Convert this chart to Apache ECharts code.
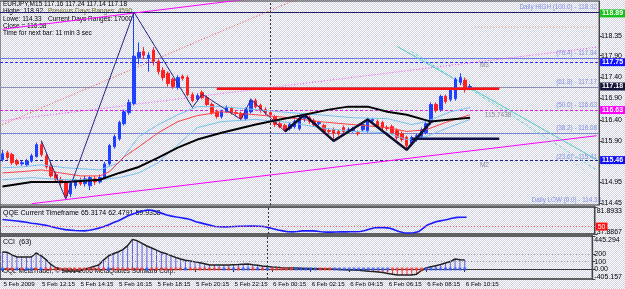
<!DOCTYPE html>
<html><head><meta charset="utf-8">
<script src="https://cdn.jsdelivr.net/npm/echarts@6/dist/echarts.min.js"></script>
<style>
html,body{margin:0;padding:0;}
#c{width:625px;height:289px;background-color:#fff;background-image:repeating-conic-gradient(#cfd1e0 0 25%, #ffffff 0 50%);background-size:2px 2px;}
</style></head><body><div id="c"></div>
<script>
// ---------------- data ----------------
const tickLabels = ['5 Feb 2009','5 Feb 12:15','5 Feb 14:15','5 Feb 16:15','5 Feb 18:15','5 Feb 20:15','5 Feb 22:15','6 Feb 00:15','6 Feb 02:15','6 Feb 04:15','6 Feb 06:15','6 Feb 08:15','6 Feb 10:15'];
const slotCount = 123;            // bar slots on the time axis (incl. right shift)
const daySeparatorBar = 55;       // 6 Feb 00:00

const opens = [115.47,115.63,115.59,115.44,115.37,115.35,115.44,115.54,115.82,115.56,
115.33,115.12,115.00,114.93,114.67,114.86,114.98,114.91,114.86,115.02,
114.95,115.05,115.37,115.77,115.96,116.31,116.57,116.78,117.86,118.00,
117.84,118.03,117.77,117.56,117.49,117.35,117.16,117.42,117.39,116.99,
116.88,117.04,116.92,116.76,116.59,116.48,116.59,116.67,116.57,116.55,
116.43,116.59,116.85,116.74,116.64,116.57,116.48,116.31,116.27,116.20,
116.24,116.20,116.43,116.45,116.38,116.31,116.27,116.15,116.17,116.13,
116.22,116.15,116.15,116.10,116.17,116.15,116.38,116.36,116.34,116.22,
116.24,116.15,116.08,115.99,115.84,115.94,116.01,116.10,116.34,116.76,
116.64,116.95,116.88,116.90,117.28,117.33,117.16];
const closes = [115.61,115.52,115.40,115.37,115.40,115.44,115.56,115.82,115.59,115.30,
115.09,115.00,114.93,114.62,114.91,114.98,114.91,115.02,115.05,114.95,
115.05,115.37,115.80,116.01,116.34,116.59,116.81,117.89,117.98,117.91,
117.91,117.77,117.53,117.39,117.25,117.18,117.39,117.37,116.99,116.85,
116.97,116.92,116.76,116.57,116.48,116.59,116.69,116.57,116.55,116.45,
116.64,116.85,116.71,116.62,116.57,116.52,116.29,116.24,116.17,116.29,
116.36,116.43,116.48,116.36,116.29,116.34,116.13,116.13,116.08,116.08,
116.13,116.17,116.20,116.08,116.29,116.41,116.41,116.24,116.22,116.20,
116.10,115.99,115.94,115.80,115.99,116.03,116.17,116.31,116.76,116.62,
116.95,116.83,117.11,117.35,117.39,117.12,117.18];
const lows = [115.42,115.47,115.35,115.33,115.33,115.30,115.40,115.52,115.54,115.26,
115.05,114.93,114.86,114.55,114.60,114.79,114.86,114.84,114.76,114.88,
114.91,115.00,115.33,115.73,115.91,116.27,116.52,116.74,117.70,117.82,
117.53,117.67,117.46,117.32,117.18,117.13,117.11,117.32,116.95,116.81,
116.83,116.88,116.71,116.52,116.43,116.43,116.57,116.52,116.50,116.41,
116.38,116.55,116.67,116.57,116.52,116.45,116.24,116.20,116.13,116.15,
116.20,116.15,116.36,116.31,116.24,116.27,116.08,116.06,115.91,116.03,
116.08,116.10,116.10,116.03,116.13,116.10,116.34,116.20,116.17,116.15,
116.06,115.94,115.89,115.70,115.80,115.89,115.96,116.06,116.29,116.57,
116.59,116.78,116.83,116.85,117.21,117.04,117.14];
const highs = [115.70,115.68,115.63,115.49,115.44,115.49,115.61,115.87,115.91,115.63,
115.40,115.19,115.07,115.00,114.95,115.02,115.05,115.09,115.09,115.09,
115.12,115.42,115.84,116.06,116.38,116.64,116.88,118.92,118.21,118.10,
117.98,118.10,117.82,117.63,117.53,117.39,117.44,117.46,117.44,117.04,
117.02,117.09,116.97,116.81,116.64,116.64,116.74,116.71,116.62,116.59,
116.69,116.90,116.90,116.78,116.69,116.62,116.52,116.38,116.31,116.34,
116.41,116.50,116.52,116.50,116.43,116.38,116.31,116.20,116.22,116.17,
116.27,116.22,116.24,116.15,116.34,116.45,116.45,116.41,116.38,116.27,
116.29,116.20,116.13,116.03,116.03,116.08,116.22,116.36,116.81,116.81,
116.99,116.99,117.16,117.39,117.49,117.39,117.24];

// moving averages / bands: [bar, price]
const maSlow = [[0,114.84],[6,114.95],[13,114.95],[20,115.00],[24,115.16],[28,115.30],[32,115.52],[36,115.75],[40,115.94],[45,116.10],[52,116.29],[57,116.41],[62,116.52],[67,116.64],[71,116.71],[75,116.71],[79,116.59],[83,116.52],[88,116.36],[92,116.41],[96,116.45]];
const maMid = [[0,115.16],[4,115.19],[8,115.23],[12,115.16],[16,115.09],[20,115.09],[22,115.19],[25,115.54],[28,115.77],[32,116.10],[36,116.36],[40,116.50],[45,116.59],[52,116.52],[59,116.45],[65,116.36],[72,116.29],[79,116.22],[83,116.13],[87,116.17],[91,116.34],[96,116.52]];
const bandUpper = [[0,115.28],[4,115.30],[8,115.35],[13,115.28],[20,115.23],[24,115.40],[28,116.01],[32,116.29],[36,116.52],[40,116.71],[45,116.71],[52,116.64],[59,116.57],[65,116.52],[72,116.45],[79,116.43],[84,116.29],[87,116.36],[92,116.59],[96,116.69]];
const bandLower = [[0,115.00],[6,115.05],[13,115.00],[20,115.00],[24,115.05],[28,115.16],[32,115.40],[36,115.82],[40,116.22],[45,116.36],[52,116.41],[59,116.34],[65,116.22],[72,116.13],[79,116.10],[83,115.94],[87,116.01],[92,116.24],[96,116.41]];

// zigzags
const zigzagThin = [[8,115.91],[13,114.55],[27,118.92],[39,116.69],[41,117.00],[49,116.41],[51,116.88],[58,116.13]];
const zigzagThick = [[58,116.13],[62,116.52],[68,115.91],[75,116.41],[83,115.70],[88,116.36]];

// trend lines
const channelUpper = [[0,118.52],[60,119.36]];
const channelLower = [[6,114.44],[122,116.03]];
const channelMidDotted = [[0,116.38],[122,118.10]];
const redDottedTrend = [[0,116.29],[62,119.30]];
const fanLine1 = [[81,118.12],[122,115.47]];
const fanLine2 = [[84,118.00],[122,115.23]];
const fanLine3 = [[90,117.82],[122,115.00]];
const orangeLevel = [[97,118.57],[122,118.57]];
const redResistance = [[44,117.13],[102,117.13]];
const navySupport = [[84,115.96],[102,115.96]];

// levels
const dailyHigh = 118.92, dailyLow = 114.33;
const levelPrices = [118.92, 117.84, 117.75, 117.17, 116.63, 116.08, 115.46];
const fibRatios = ['76.4','61.8','50.0','38.2','23.6'];
const fibPrices = [117.84, 117.17, 116.63, 116.08, 115.41];
const boxPrices = [118.89, 117.75, 117.18, 116.63, 115.46];
const mainTicks = [118.35, 117.90, 117.40, 116.90, 116.40, 115.90, 114.95, 114.45];
const mainRange = [114.41, 119.18];
const pivotTags = [['M3', 97, 117.67], ['M2', 97, 115.35], ['115.7438', 98, 116.50]];

// QQE
const qqe = [61.6,60.8,60,59,58,57,55.5,54.5,53.5,52,
50,48,46.5,45,44.2,43.6,43.2,43,44,45.5,
47.5,50,53,56.5,59.5,63.5,67.5,70.5,73.5,75.5,
76.8,76.5,74,71.5,69,67,65.5,64.5,63,61,
58,56,54,52,50,49.7,49.5,49.8,50.2,50.5,
50.5,50.8,51,50.5,50,48.5,46.5,44.5,43,41.5,
41.3,42,43,43,43,42.5,41.5,41,41,41.2,
41.3,41.3,41.5,41.5,42,43.5,46,48,48.5,48.3,
47.5,45,42,40,39.6,40,41.5,47,53,56,
58.5,60,61.5,63.5,65,65.2,65.3];
const qqeRange = [37.8867, 81.8933];
const qqeLevel = 50;

// CCI
const cci = [230,225,190,162,162,162,162,216,180,130,
67,20,0,-27,-27,-27,-27,-5,13,35,
54,120,175,205,230,262,315,400,380,345,
310,283,255,225,205,180,155,135,118,108,
96,85,70,55,54,54,54,54,57,60,
65,67,58,50,40,33,27,22,18,15,
13,12,10,8,6,4,2,0,0,-3,
-6,-9,-12,-13,-18,-24,-30,-35,-40,-48,
-60,-70,-80,-81,-81,-81,-70,-20,13,30,
45,60,80,100,135,125,121];
const cciDotTrend = ('udduduudu' + 'ddddddddddddd' + 'u' + 'ddddddd' + 'u' + 'ddddddd' + 'u' + 'ddddddd' +
  'ududuududu' + 'ddddd' + 'uuuuu' + 'ddd' + 'uuuuuuuuuuuu' + 'ddddddd' + 'uuuuuuuuu').split('');
const cciTickValues = [445.294, 200, 100, 0, -135];
const cciTickLabels = ['445.294', '200', '100', '0.00', '-405.157'];
const cciLevels = [200, 100];

// ---------------- chart ----------------
const FONT = '"Liberation Sans", Arial, sans-serif';
const categories = Array.from({length: slotCount}, (_, i) => String(i));
const chart = echarts.init(document.getElementById('c'), null, {renderer: 'canvas'});
const CLEAR = 'rgba(0,0,0,0)';

const labelTick = (i) => i % 8 === 0 && i / 8 < tickLabels.length;
function xAx(gi, show) {
  return {
    type: 'category', gridIndex: gi, data: categories, boundaryGap: true,
    axisLine: {show: show, lineStyle: {color: '#333'}},
    axisTick: {show: show, alignWithLabel: true, interval: labelTick, length: 3, lineStyle: {color: '#333'}},
    axisLabel: {show: show, interval: labelTick, formatter: (v, i) => tickLabels[i / 8] || '', align: 'left',
      fontSize: 6.2, color: '#000', margin: 2, padding: [0, 0, 0, 1], fontFamily: FONT, hideOverlap: false},
    splitLine: {show: false}
  };
}
// edge labels are nudged inside their panel, like the reference
function edgeRich() {
  return {
    n: {fontSize: 7, color: '#000', fontFamily: FONT},
    t: {fontSize: 7, color: '#000', fontFamily: FONT, padding: [9, 0, 0, 0]},
    b: {fontSize: 7, color: '#000', fontFamily: FONT, padding: [0, 0, 4, 0]}
  };
}
function yAx(gi, min, max, ticks, fmt) {
  return {
    type: 'value', gridIndex: gi, position: 'right', min: min, max: max, scale: true,
    axisLine: {show: true, lineStyle: {color: '#444'}},
    axisTick: {show: true, length: 3, customValues: ticks, lineStyle: {color: '#444'}},
    axisLabel: {customValues: ticks, fontSize: 7, color: '#000', margin: 2, fontFamily: FONT, rich: edgeRich(),
      formatter: v => {
        const s = fmt(v);
        if (gi === 0) return '{n|' + s + '}';
        if (v === max) return '{t|' + s + '}';
        if (v === min) return '{b|' + s + '}';
        return '{n|' + s + '}';
      }},
    splitLine: {show: false}
  };
}
function lineS(data, color, width, type, z, gi) {
  return {type: 'line', xAxisIndex: gi || 0, yAxisIndex: gi || 0, data: data, showSymbol: false, symbol: 'none',
    lineStyle: {color: color, width: width, type: type || 'solid'}, silent: true, z: z || 3, clip: true, animation: false};
}

const levelStyles = [
  {color: '#1c1c60', type: 'solid'},
  {color: '#6c7ae0', type: 'solid'},
  {color: '#2a2aff', type: [3, 2]},
  {color: '#8a90b8', type: 'solid'},
  {color: '#e020e0', type: [3, 2]},
  {color: '#7a86d0', type: 'solid'},
  {color: '#20208a', type: [3, 2]}
];
const boxColors = ['#19c019', '#1010ff', '#15153a', '#ff00ff', '#1010ee'];
const fibTextStyle = {color: '#7f8fe0', fontSize: 6.3, fontFamily: FONT};

const mainMarkLines = [];
levelPrices.forEach((p, i) => mainMarkLines.push({yAxis: p, lineStyle: Object.assign({width: 1}, levelStyles[i]), label: {show: false}}));
mainMarkLines.push({yAxis: dailyHigh, lineStyle: {width: 1, color: CLEAR},
  label: Object.assign({show: true, position: 'insideEndTop', distance: 2, formatter: 'Daily HIGH (100.0) - ' + dailyHigh.toFixed(2)}, fibTextStyle)});
fibPrices.forEach((p, i) => mainMarkLines.push({yAxis: p, lineStyle: {width: 1, color: CLEAR},
  label: Object.assign({show: true, position: 'insideEndTop', distance: 2, formatter: '(' + fibRatios[i] + ') - ' + p.toFixed(2)}, fibTextStyle)}));
boxPrices.forEach((p, i) => mainMarkLines.push({yAxis: p, lineStyle: {width: 1, color: CLEAR},
  label: {show: true, position: 'end', distance: 1, formatter: p.toFixed(2), backgroundColor: boxColors[i], color: '#fff',
    fontSize: 7, fontWeight: 'bold', fontFamily: FONT, padding: [1, 2, 0, 2]}}));
mainMarkLines.push({xAxis: daySeparatorBar, lineStyle: {color: '#333', type: [2, 2], width: 1}, label: {show: false}});

const candleData = opens.map((o, i) => [o, closes[i], lows[i], highs[i]]);
const smallText = (left, top, text, fill) => ({type: 'text', left: left, top: top, silent: true,
  style: {text: text, fontSize: 6.5, fill: fill || '#000', fontFamily: FONT}});

const option = {
  animation: false,
  backgroundColor: 'transparent',
  textStyle: {fontFamily: FONT},
  grid: [
    {left: 0, right: 22, top: 1, height: 204, show: true, borderColor: '#333', borderWidth: 1, backgroundColor: 'transparent'},
    {left: 0, right: 22, top: 207, height: 27, show: true, borderColor: '#333', borderWidth: 1.5, backgroundColor: 'transparent'},
    {left: 0, right: 22, top: 236, height: 43, show: true, borderColor: '#333', borderWidth: 1.5, backgroundColor: 'transparent'}
  ],
  xAxis: [xAx(0, false), xAx(1, false), xAx(2, true)],
  yAxis: [
    yAx(0, mainRange[0], mainRange[1], mainTicks, v => v.toFixed(2)),
    yAx(1, qqeRange[0], qqeRange[1], qqeRange, v => v.toFixed(4)),
    yAx(2, cciTickValues[cciTickValues.length - 1], cciTickValues[0], cciTickValues, v => cciTickLabels[cciTickValues.indexOf(v)] ?? String(v))
  ],
  series: [
    // trend lines
    lineS(redDottedTrend, '#ff3a3a', 1, [1, 2], 1),
    lineS(channelMidDotted, '#ff40ff', 1, [1, 2], 1),
    lineS(channelUpper, '#ff00ff', 1, 'solid', 1),
    lineS(channelLower, '#ff00ff', 1, 'solid', 1),
    lineS(fanLine1, '#50c8c8', 1, 'solid', 1),
    lineS(fanLine2, '#70d0d0', 1, [3, 2], 1),
    lineS(fanLine3, '#90d8d8', 1, [1, 2], 1),
    lineS(orangeLevel, '#e0a070', 1, [1, 2], 1),
    // bands and averages
    lineS(bandUpper, '#78c0ee', 1, 'solid', 3),
    lineS(bandLower, '#78c0ee', 1, 'solid', 3),
    lineS(maMid, '#ff4040', 1, 'solid', 3),
    lineS(maSlow, '#000000', 2, 'solid', 3),
    {
      type: 'candlestick', xAxisIndex: 0, yAxisIndex: 0, data: candleData, barWidth: 3, z: 2,
      itemStyle: {color: '#2040ff', color0: '#ff2020', borderColor: '#2040ff', borderColor0: '#ff2020', borderWidth: 1},
      silent: true,
      markLine: {symbol: ['none', 'none'], silent: true, animation: false, z: 1, data: mainMarkLines},
      markPoint: {symbol: 'circle', symbolSize: 0, silent: true, animation: false,
        data: pivotTags.map(t => ({coord: [t[1], t[2]], label: {show: true, formatter: t[0], color: '#8a8a9a', fontSize: 6.5, fontFamily: FONT, position: 'right'}}))}
    },
    lineS(redResistance, '#ff1010', 2.5, 'solid', 4),
    lineS(navySupport, '#10104a', 2.5, 'solid', 4),
    lineS(zigzagThin, '#24248a', 1, 'solid', 4),
    lineS(zigzagThick, '#101030', 2.5, 'solid', 4),
    // QQE
    Object.assign(lineS(qqe, '#1a1aff', 1.6, 'solid', 3, 1), {
      markLine: {symbol: ['none', 'none'], silent: true, animation: false, data: [
        {yAxis: qqeLevel, lineStyle: {color: '#ff6060', type: [1, 2], width: 1},
          label: {show: true, position: 'end', distance: 1, formatter: String(qqeLevel), backgroundColor: '#ff1010', color: '#fff', fontSize: 7, fontFamily: FONT, padding: [1, 2, 0, 2]}},
        {xAxis: daySeparatorBar, lineStyle: {color: '#333', type: [2, 2], width: 1}, label: {show: false}}
      ]}
    }),
    // CCI histogram
    {type: 'bar', xAxisIndex: 2, yAxisIndex: 2, data: cci, barWidth: 1, silent: true, z: 2,
      itemStyle: {color: p => p.value >= 0 ? '#5c5ce8' : '#ff3030'},
      markLine: {symbol: ['none', 'none'], silent: true, animation: false, data: [
        ...cciLevels.map(v => ({yAxis: v, lineStyle: {color: '#9a9aa8', type: [1, 2], width: 1}, label: {show: false}})),
        {xAxis: daySeparatorBar, lineStyle: {color: '#333', type: [2, 2], width: 1}, label: {show: false}}
      ]}},
    lineS(cci, '#222222', 1.5, 'solid', 4, 2),
    {type: 'scatter', xAxisIndex: 2, yAxisIndex: 2, data: cciDotTrend.map((t, i) => [i, 0]), symbol: 'rect', symbolSize: 3, silent: true, z: 5,
      itemStyle: {color: p => cciDotTrend[p.dataIndex] === 'u' ? '#3a5cff' : '#ff3a3a'}}
  ],
  graphic: [
    smallText(3, 1, 'EURJPY,M15 117.16 117.24 117.14 117.18'),
    smallText(3, 8, 'Highe: ' + dailyHigh.toFixed(2)),
    smallText(48, 8, 'Previous Days Ranges: 4590', '#6b6b20'),
    smallText(3, 16, 'Lowe: ' + dailyLow.toFixed(2)),
    smallText(48, 16, 'Current Days Ranges: 17000'),
    smallText(3, 23, 'Close = 116.58'),
    smallText(3, 30, 'Time for next bar: 11 min 3 sec'),
    {type: 'text', right: 24, top: 197, silent: true, style: {text: 'Daily LOW (0.0) - ' + dailyLow.toFixed(2), fontSize: 6.3, fill: '#7f8fe0', fontFamily: FONT}},
    {type: 'text', left: 3, top: 210, silent: true, style: {text: 'QQE Current Timeframe 65.3174 62.4791 59.9358', fontSize: 7, fill: '#000', fontFamily: FONT}},
    {type: 'text', left: 3, top: 239, silent: true, style: {text: 'CCI  (63)', fontSize: 7, fill: '#000', fontFamily: FONT}},
    {type: 'text', left: 3, top: 268, silent: true, style: {text: 'OQL MetaTrader, \u00a9 2001-2006 MetaQuotes Software Corp.', fontSize: 6.5, fill: '#000', fontFamily: FONT}}
  ]
};
chart.setOption(option);
</script></body></html>
